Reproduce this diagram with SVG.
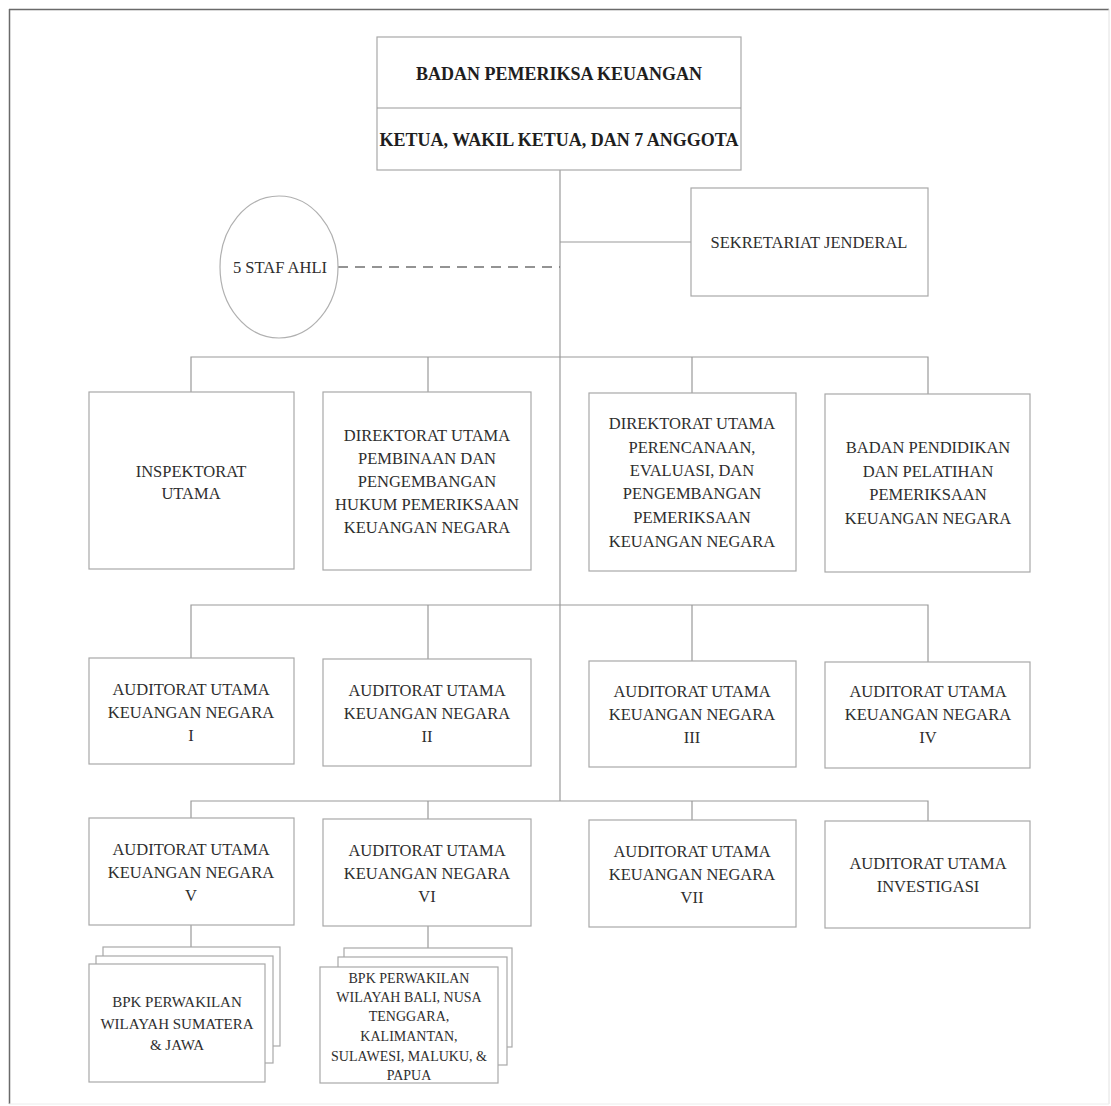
<svg xmlns="http://www.w3.org/2000/svg" width="1111" height="1106" viewBox="0 0 1111 1106">
<style>
.box{fill:#fff;stroke:#a8a8a8;stroke-width:1.2}
.ln{stroke:#9a9a9a;stroke-width:1.2;fill:none}
.dash{stroke:#707070;stroke-width:1.4;fill:none;stroke-dasharray:10 7}
.t{font-family:"Liberation Serif","Times New Roman",serif;font-size:16.5px;fill:#2e2e2e;text-anchor:middle}
.s{font-size:15px}
.xs{font-size:14px}
.b{font-weight:bold;font-size:18px;fill:#1e1e1e}
</style>
<rect width="1111" height="1106" fill="#fff"/>
<g id="frame">
<line x1="9" y1="9.5" x2="1109" y2="9.5" stroke="#6a6a6a" stroke-width="1.5"/>
<line x1="9.5" y1="9" x2="9.5" y2="1104" stroke="#6a6a6a" stroke-width="1.5"/>
<line x1="1109" y1="9" x2="1109" y2="1104" stroke="#e2e2e2" stroke-width="1"/>
<line x1="9" y1="1104" x2="1109" y2="1104" stroke="#ececec" stroke-width="1"/>
</g>
<g id="connectors">
<path class="ln" d="M560 170V801"/>
<path class="ln" d="M560 242H691"/>
<path class="dash" d="M338 267H560"/>
<path class="ln" d="M191 392V357H928V394M428 357V392M692 357V393"/>
<path class="ln" d="M191 658V605H928V662M428 605V659M692 605V661"/>
<path class="ln" d="M191 818V801H928V821M428 801V819M692 801V820"/>
<path class="ln" d="M191 925V947M428 926V948"/>
</g>
<g id="bpk">
<rect class="box" x="377" y="37" width="364" height="133"/>
<line class="ln" x1="377" y1="108" x2="741" y2="108"/>
<text class="t b" x="559" y="80">BADAN PEMERIKSA KEUANGAN</text>
<text class="t b" x="559" y="146">KETUA, WAKIL KETUA, DAN 7 ANGGOTA</text>
</g>
<g id="staf-ahli">
<ellipse cx="279" cy="267" rx="59" ry="71" fill="#fff" stroke="#b0b0b0" stroke-width="1.2"/>
<text class="t" x="280" y="273">5 STAF AHLI</text>
</g>
<g id="sekjen">
<rect class="box" x="691" y="188" width="237" height="108"/>
<text class="t" x="809" y="248">SEKRETARIAT JENDERAL</text>
</g>
<g id="inspektorat">
<rect class="box" x="89" y="392" width="205" height="177"/>
<text class="t" x="191" y="477">INSPEKTORAT</text>
<text class="t" x="191" y="499">UTAMA</text>
</g>
<g id="ditama-binbangkum">
<rect class="box" x="323" y="392" width="208" height="178"/>
<text class="t" x="427" y="441">DIREKTORAT UTAMA</text>
<text class="t" x="427" y="464">PEMBINAAN DAN</text>
<text class="t" x="427" y="487">PENGEMBANGAN</text>
<text class="t" x="427" y="510">HUKUM PEMERIKSAAN</text>
<text class="t" x="427" y="533">KEUANGAN NEGARA</text>
</g>
<g id="ditama-revbang">
<rect class="box" x="589" y="393" width="207" height="178"/>
<text class="t" x="692" y="429">DIREKTORAT UTAMA</text>
<text class="t" x="692" y="453">PERENCANAAN,</text>
<text class="t" x="692" y="476">EVALUASI, DAN</text>
<text class="t" x="692" y="499">PENGEMBANGAN</text>
<text class="t" x="692" y="523">PEMERIKSAAN</text>
<text class="t" x="692" y="547">KEUANGAN NEGARA</text>
</g>
<g id="badiklat">
<rect class="box" x="825" y="394" width="205" height="178"/>
<text class="t" x="928" y="453">BADAN PENDIDIKAN</text>
<text class="t" x="928" y="477">DAN PELATIHAN</text>
<text class="t" x="928" y="500">PEMERIKSAAN</text>
<text class="t" x="928" y="524">KEUANGAN NEGARA</text>
</g>
<g id="auditama-1">
<rect class="box" x="89" y="658" width="205" height="106"/>
<text class="t" x="191" y="695">AUDITORAT UTAMA</text>
<text class="t" x="191" y="718">KEUANGAN NEGARA</text>
<text class="t" x="191" y="741">I</text>
</g>
<g id="auditama-2">
<rect class="box" x="323" y="659" width="208" height="107"/>
<text class="t" x="427" y="696">AUDITORAT UTAMA</text>
<text class="t" x="427" y="719">KEUANGAN NEGARA</text>
<text class="t" x="427" y="742">II</text>
</g>
<g id="auditama-3">
<rect class="box" x="589" y="661" width="207" height="106"/>
<text class="t" x="692" y="697">AUDITORAT UTAMA</text>
<text class="t" x="692" y="720">KEUANGAN NEGARA</text>
<text class="t" x="692" y="743">III</text>
</g>
<g id="auditama-4">
<rect class="box" x="825" y="662" width="205" height="106"/>
<text class="t" x="928" y="697">AUDITORAT UTAMA</text>
<text class="t" x="928" y="720">KEUANGAN NEGARA</text>
<text class="t" x="928" y="743">IV</text>
</g>
<g id="auditama-5">
<rect class="box" x="89" y="818" width="205" height="107"/>
<text class="t" x="191" y="855">AUDITORAT UTAMA</text>
<text class="t" x="191" y="878">KEUANGAN NEGARA</text>
<text class="t" x="191" y="901">V</text>
</g>
<g id="auditama-6">
<rect class="box" x="323" y="819" width="208" height="107"/>
<text class="t" x="427" y="856">AUDITORAT UTAMA</text>
<text class="t" x="427" y="879">KEUANGAN NEGARA</text>
<text class="t" x="427" y="902">VI</text>
</g>
<g id="auditama-7">
<rect class="box" x="589" y="820" width="207" height="107"/>
<text class="t" x="692" y="857">AUDITORAT UTAMA</text>
<text class="t" x="692" y="880">KEUANGAN NEGARA</text>
<text class="t" x="692" y="903">VII</text>
</g>
<g id="auditama-investigasi">
<rect class="box" x="825" y="821" width="205" height="107"/>
<text class="t" x="928" y="869">AUDITORAT UTAMA</text>
<text class="t" x="928" y="892">INVESTIGASI</text>
</g>
<g id="bpk-perwakilan-sumatera-jawa">
<rect class="box" x="103" y="947" width="177" height="99"/>
<rect class="box" x="96" y="956" width="177" height="107"/>
<rect class="box" x="89" y="964" width="176" height="118"/>
<text class="t s" x="177" y="1007">BPK PERWAKILAN</text>
<text class="t s" x="177" y="1029">WILAYAH SUMATERA</text>
<text class="t s" x="177" y="1050">&amp; JAWA</text>
</g>
<g id="bpk-perwakilan-timur">
<rect class="box" x="344" y="948" width="168" height="99"/>
<rect class="box" x="338" y="957" width="169" height="108"/>
<rect class="box" x="320" y="967" width="178" height="116"/>
<text class="t xs" x="409" y="983">BPK PERWAKILAN</text>
<text class="t xs" x="409" y="1002">WILAYAH BALI, NUSA</text>
<text class="t xs" x="409" y="1021">TENGGARA,</text>
<text class="t xs" x="409" y="1041">KALIMANTAN,</text>
<text class="t xs" x="409" y="1061">SULAWESI, MALUKU, &amp;</text>
<text class="t xs" x="409" y="1080">PAPUA</text>
</g>
</svg>
